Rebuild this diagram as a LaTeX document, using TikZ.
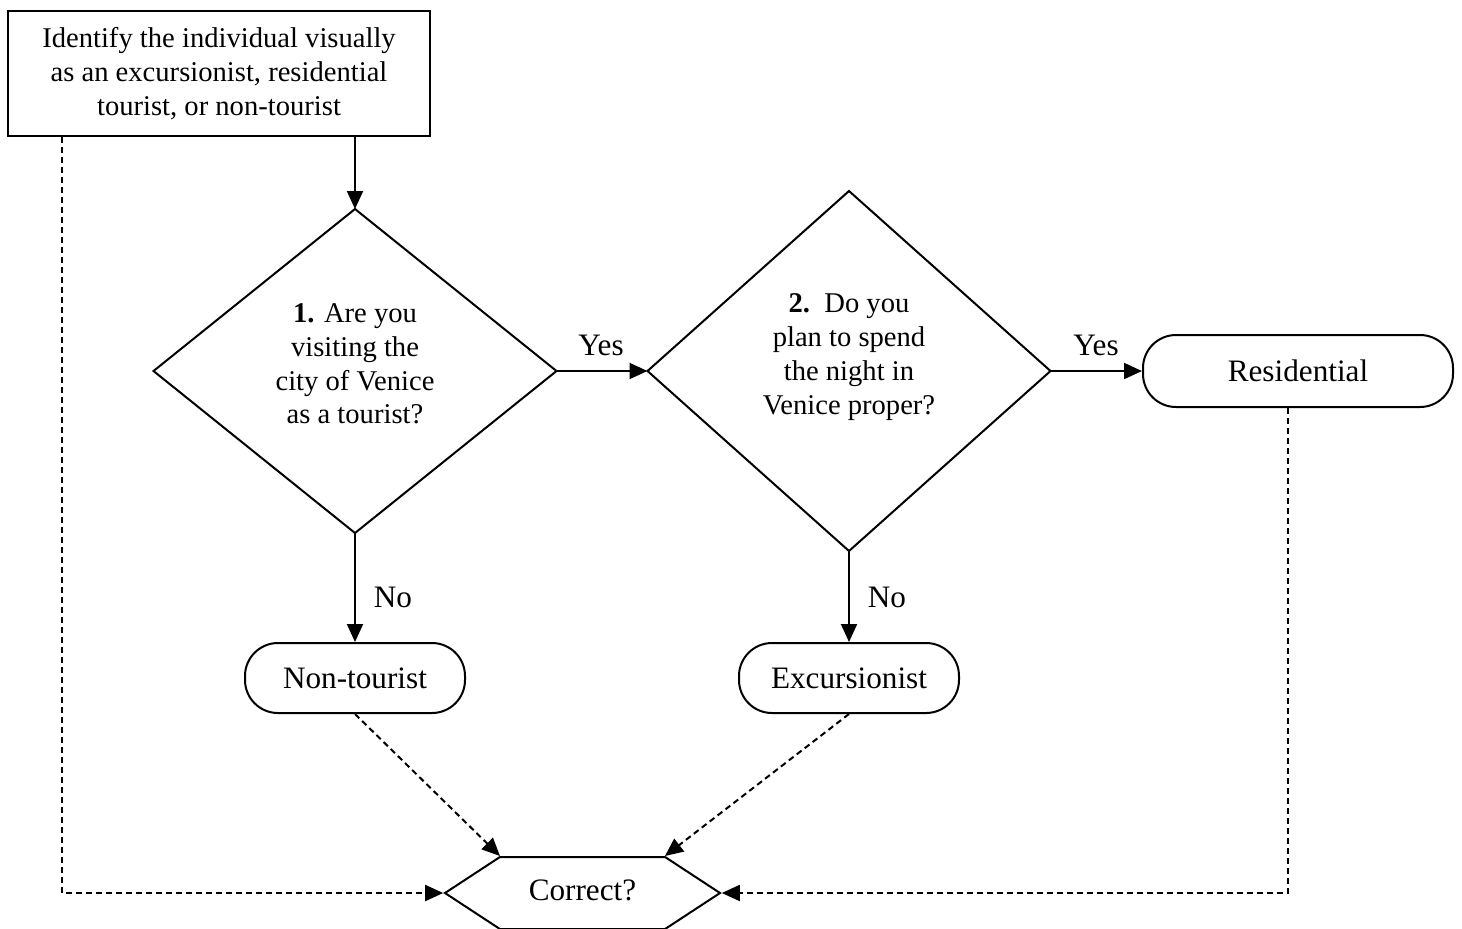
\documentclass[tikz,border=0pt]{standalone}
\usepackage{fontspec}
\setmainfont{Liberation Serif}
\usetikzlibrary{shapes.geometric,shapes.symbols,arrows.meta,calc}

\begin{document}
\begin{tikzpicture}[x=0.5pt,y=-0.5pt,
    line width=1pt,
    flow/.style={-{Triangle[length=9pt,width=8pt]}},
    hint/.style={flow,dash pattern=on 3pt off 2pt},
    infobox/.style={draw,rectangle,inner sep=0pt,align=center,font=\fontsize{14.3}{16.9}\selectfont},
    question/.style={draw,diamond,inner sep=0pt,outer sep=0pt},
    qtext/.style={align=center,inner sep=0pt,font=\fontsize{14.3}{16.9}\selectfont},
    outcome/.style={draw,rectangle,rounded corners=16.5pt,inner sep=0pt,font=\fontsize{15.6}{18}\selectfont},
    checkbox/.style={draw,signal,signal to=west and east,signal pointer angle=66.5,inner sep=0pt,font=\fontsize{15.6}{18}\selectfont},
    answer/.style={inner sep=0pt,font=\fontsize{15.6}{18}\selectfont}]
      \useasboundingbox (0,0) rectangle (1462,928);

      \node[infobox,minimum width=211pt,minimum height=62.5pt] (start) at (219,73.5)
        {Identify the individual visually\\as an excursionist, residential\\tourist, or non-tourist};

      \node[question,minimum width=201.5pt,minimum height=162pt] (q1) at (355,371) {};
      \node[qtext] (q1text) at (355,364) {\textbf{1.} Are you\\visiting the\\city of Venice\\as a tourist?};

      \node[question,minimum width=201.5pt,minimum height=180pt] (q2) at (849,371) {};
      \node[qtext] (q2text) at (849,357) {\textbf{2.}\ \ Do you\\plan to spend\\the night in\\Venice proper?};

      \node[outcome,minimum width=155pt,minimum height=36pt] (res) at (1298,371) {Residential};
      \node[outcome,minimum width=110pt,minimum height=35pt] (non) at (355,678) {Non-tourist};
      \node[outcome,minimum width=110pt,minimum height=35pt] (exc) at (849,678) {Excursionist};

      \node[checkbox,minimum width=137.5pt,minimum height=36pt] (check) at (582.5,893) {\raisebox{3pt}{Correct?}};
      \coordinate (checkleft) at ($(check.north)+(-82.5,0)$);
      \coordinate (checkright) at ($(check.north)+(82.5,0)$);
      \coordinate (leftrun) at (62,893);
      \coordinate (rightrun) at (1288,893);

      \draw[flow] (start.south -| q1.north) -- (q1.north);
      \draw[flow] (q1.east) -- (q2.west);
      \draw[flow] (q2.east) -- (res.west);
      \draw[flow] (q1.south) -- (non.north);
      \draw[flow] (q2.south) -- (exc.north);

      \node[answer] (yes1) at (601,345) {Yes};
      \node[answer] (yes2) at (1096,345) {Yes};
      \node[answer] (no1) at (393,597) {No};
      \node[answer] (no2) at (887,597) {No};

      \draw[hint] (start.south -| leftrun) -- (leftrun) -- (check.west);
      \draw[hint] (res.south -| rightrun) -- (rightrun) -- (check.east);
      \draw[hint] (non.south) -- (checkleft);
      \draw[hint] (exc.south) -- (checkright);
\end{tikzpicture}
\end{document}
